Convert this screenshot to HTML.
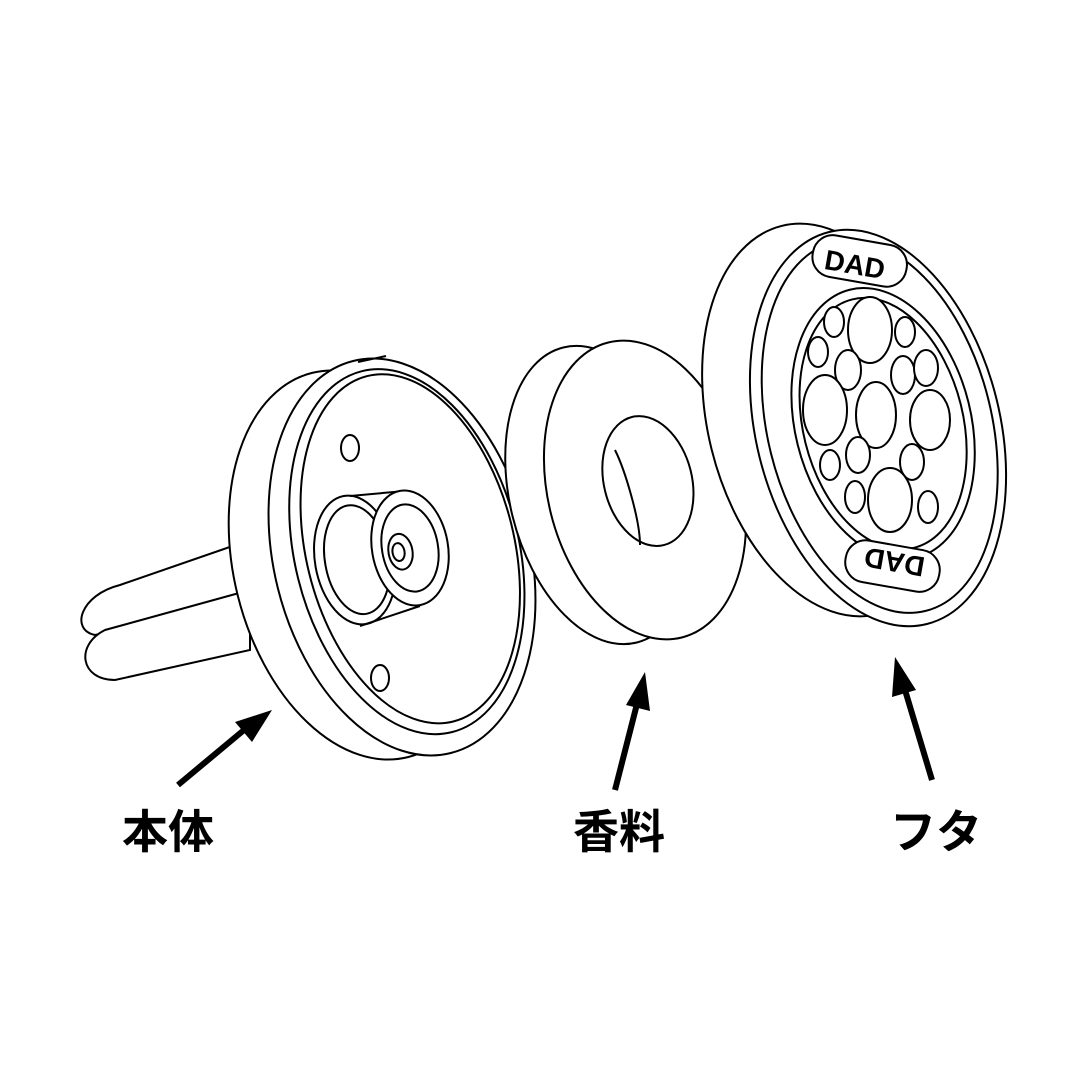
<!DOCTYPE html>
<html><head><meta charset="utf-8"><style>
html,body{margin:0;padding:0;background:#fff}
svg{display:block}
text{font-family:"Liberation Sans","Noto Sans CJK JP",sans-serif;font-weight:bold;font-size:46px;fill:#000}
</style></head><body>
<svg width="1080" height="1080" viewBox="0 0 1080 1080" xmlns="http://www.w3.org/2000/svg">
<g fill="#fff" stroke="#000" stroke-width="2">
<path d="M250 540 L120 585 C80 595 70 630 95 635 L250 600 Z"/>
<path d="M250 590 L105 630 C75 645 80 680 115 680 L250 650 Z"/>
<g transform="rotate(-14 360 565)">
<ellipse cx="360" cy="565" rx="126" ry="198"/>
</g>
<g transform="rotate(-14 402 557)">
<ellipse cx="402" cy="557" rx="128" ry="202"/>
<ellipse cx="408" cy="553" rx="112" ry="186"/>
<ellipse cx="412" cy="551" rx="104" ry="178"/>
</g>
<line x1="358" y1="362" x2="386" y2="356"/>
<ellipse cx="350" cy="448" rx="9" ry="13"/>
<ellipse cx="380" cy="678" rx="9" ry="13"/>
<g transform="rotate(-10 355 560)">
<ellipse cx="355" cy="560" rx="40" ry="65"/>
<ellipse cx="357" cy="560" rx="32" ry="55"/>
</g>
<line x1="350" y1="496" x2="405" y2="491"/>
<line x1="360" y1="626" x2="420" y2="606"/>
<g transform="rotate(-10 410 548)">
<ellipse cx="410" cy="548" rx="38" ry="58"/>
<ellipse cx="410" cy="548" rx="28" ry="44"/>
<ellipse cx="400" cy="550" rx="12" ry="18"/>
<ellipse cx="398" cy="550" rx="6" ry="9"/>
</g>
<g transform="rotate(-14 600 495)">
<ellipse cx="600" cy="495" rx="90" ry="152"/>
</g>
<g transform="rotate(-14 645 490)">
<ellipse cx="645" cy="490" rx="97" ry="152"/>
<ellipse cx="650" cy="482" rx="44" ry="66"/>
</g>
<path d="M615 450 C625 470 640 520 640 545" fill="none"/>
<g transform="rotate(-14 830 420)">
<ellipse cx="830" cy="420" rx="122" ry="200"/>
</g>
<g transform="rotate(-14 878 428)">
<ellipse cx="878" cy="428" rx="122" ry="202"/>
<ellipse cx="880" cy="427" rx="112" ry="190"/>
<ellipse cx="884" cy="425" rx="88" ry="138"/>
<ellipse cx="884" cy="425" rx="80" ry="128"/>
</g>
<ellipse cx="870" cy="330" rx="22" ry="33"/>
<ellipse cx="834" cy="322" rx="10" ry="15"/>
<ellipse cx="905" cy="332" rx="10" ry="15"/>
<ellipse cx="818" cy="352" rx="10" ry="15"/>
<ellipse cx="848" cy="370" rx="13" ry="20"/>
<ellipse cx="903" cy="375" rx="12" ry="19"/>
<ellipse cx="926" cy="368" rx="12" ry="18"/>
<ellipse cx="825" cy="410" rx="22" ry="35"/>
<ellipse cx="876" cy="415" rx="20" ry="33"/>
<ellipse cx="930" cy="420" rx="20" ry="30"/>
<ellipse cx="858" cy="455" rx="12" ry="18"/>
<ellipse cx="830" cy="465" rx="10" ry="15"/>
<ellipse cx="912" cy="462" rx="12" ry="18"/>
<ellipse cx="890" cy="500" rx="22" ry="32"/>
<ellipse cx="855" cy="497" rx="10" ry="16"/>
<ellipse cx="928" cy="507" rx="10" ry="16"/>
<rect x="812" y="240" width="95" height="42" rx="20" transform="rotate(10 860 262)"/>
<rect x="845" y="545" width="95" height="42" rx="20" transform="rotate(10 892 566)"/>
</g>
<text x="825" y="275" transform="rotate(10 860 262)" style="font-size:28px">DAD</text>
<text x="860" y="580" style="font-size:28px" transform="rotate(190 892 566)">DAD</text>
<g stroke="#000" stroke-width="6" fill="#000">
<line x1="178" y1="785" x2="250" y2="725"/>
<line x1="615" y1="790" x2="638" y2="700"/>
<line x1="932" y1="780" x2="905" y2="690"/>
</g>
<polygon points="272,710 235,722 252,742"/>
<polygon points="645,672 626,705 650,711"/>
<polygon points="895,657 892,697 916,690"/>
<text x="122" y="848">本体</text>
<text x="573" y="848">香料</text>
<text x="890" y="848">フタ</text>
</svg>
</body></html>
